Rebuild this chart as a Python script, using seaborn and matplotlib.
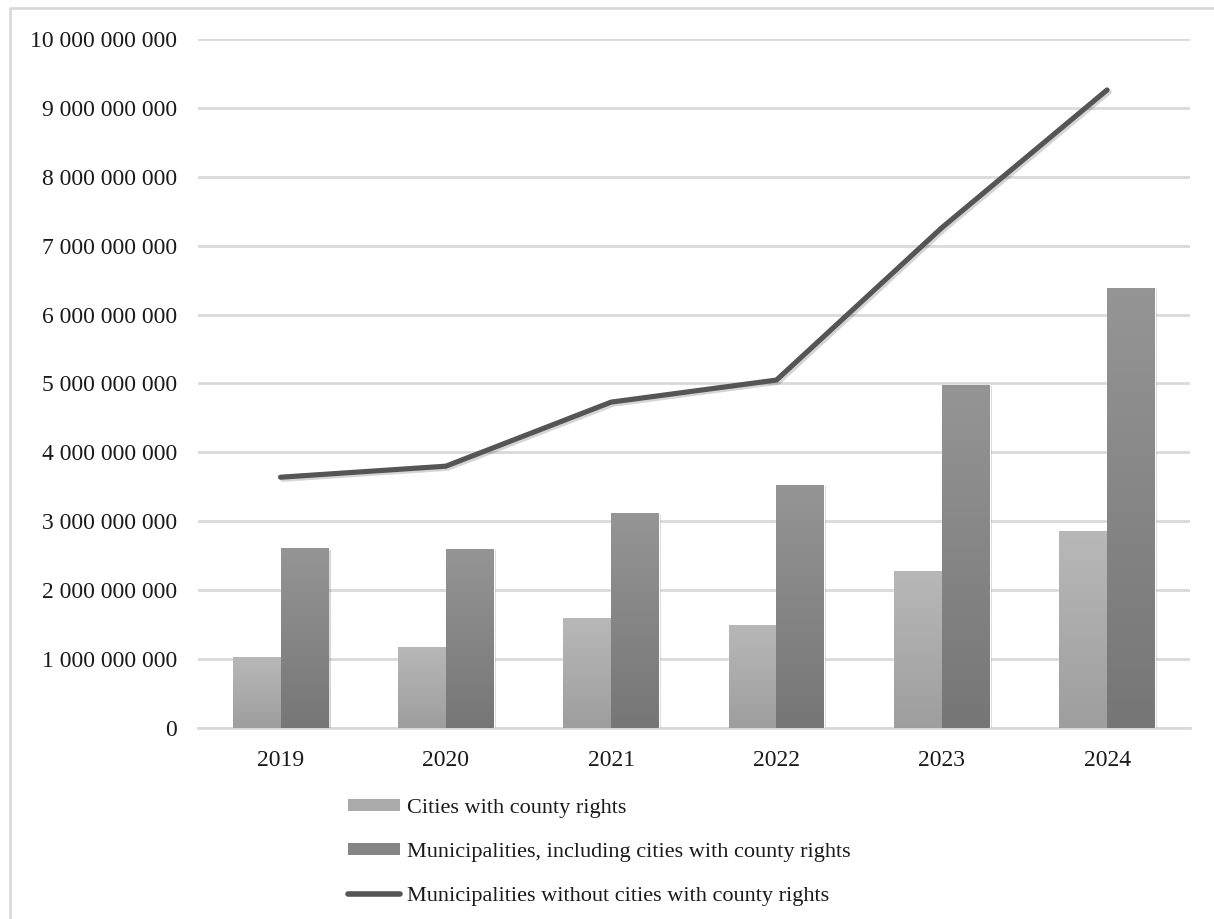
import numpy as np
import pandas as pd
import matplotlib
matplotlib.use("Agg")
import matplotlib.pyplot as plt
import matplotlib.patheffects as pe
from matplotlib.patches import Patch
from matplotlib.lines import Line2D
from matplotlib.colors import LinearSegmentedColormap
import seaborn as sns

years = ["2019", "2020", "2021", "2022", "2023", "2024"]
cities_county_rights = [1.03e9, 1.18e9, 1.60e9, 1.49e9, 2.28e9, 2.86e9]
municipalities_incl = [2.61e9, 2.60e9, 3.12e9, 3.53e9, 4.98e9, 6.39e9]
municipalities_excl = [3.64e9, 3.80e9, 4.73e9, 5.05e9, 7.26e9, 9.26e9]

label_cities = "Cities with county rights"
label_incl = "Municipalities, including cities with county rights"
label_excl = "Municipalities without cities with county rights"

y_ticks = [i * 1_000_000_000 for i in range(11)]

sns.set_theme(style="white")
plt.rcParams["font.family"] = ["Liberation Serif", "DejaVu Serif"]

bars = pd.DataFrame({
    "year": years * 2,
    "value": cities_county_rights + municipalities_incl,
    "series": [label_cities] * 6 + [label_incl] * 6,
})

fig = plt.figure(figsize=(12.14, 9.19), dpi=100)
ax = fig.add_axes([0.163, 0.2078, 0.817, 0.7498])

light_top, light_bot = "#b8b8b8", "#9e9e9e"
dark_top, dark_bot = "#959595", "#767676"

sns.barplot(data=bars, x="year", y="value", hue="series",
            palette=[light_top, dark_top], width=0.58, gap=0,
            saturation=1, legend=False, ax=ax, zorder=3)

# vertical gradient fill for every bar, clipped to the bar itself
for i, patch in enumerate(ax.patches):
    top_c, bot_c = (light_top, light_bot) if i < 6 else (dark_top, dark_bot)
    cmap = LinearSegmentedColormap.from_list("g", [bot_c, top_c])
    x0, y0 = patch.get_x(), patch.get_y()
    w, h = patch.get_width(), patch.get_height()
    patch.set_path_effects([pe.SimplePatchShadow(offset=(1.5, -1.0), alpha=0.2),
                            pe.Normal()])
    grad = np.linspace(0, 1, 256).reshape(-1, 1)
    im = ax.imshow(grad, extent=[x0, x0 + w, y0, y0 + h], origin="lower",
                   cmap=cmap, aspect="auto", zorder=4, interpolation="bicubic")
    im.set_clip_path(patch)

sns.lineplot(x=np.arange(len(years)), y=municipalities_excl, ax=ax,
             color="#555555", linewidth=3.7, zorder=6,
             path_effects=[pe.SimpleLineShadow(offset=(1.5, -1.5), alpha=0.18),
                           pe.Normal()])
ax.lines[-1].set_solid_capstyle("round")
ax.lines[-1].set_solid_joinstyle("miter")

ax.set_xlim(-0.5, 5.5)
ax.set_ylim(0, 10_000_000_000)
ax.set_yticks(y_ticks)
ax.set_yticklabels([f"{v:,}".replace(",", " ") for v in y_ticks])
ax.set_xticks(range(len(years)))
ax.set_xticklabels(years)
ax.set_xlabel("")
ax.set_ylabel("")
ax.tick_params(axis="both", length=0, labelsize=17, colors="#1a1a1a")
ax.tick_params(axis="y", pad=15)
ax.tick_params(axis="x", pad=16)
ax.grid(axis="y", color="#d9d9d9", linewidth=2, zorder=0)
ax.set_axisbelow(True)
for s in ["top", "right", "left"]:
    ax.spines[s].set_visible(False)
ax.spines["bottom"].set_color("#d9d9d9")
ax.spines["bottom"].set_linewidth(2)

handles = [
    Patch(facecolor="#aaaaaa", edgecolor="none"),
    Patch(facecolor="#858585", edgecolor="none"),
    Line2D([0], [0], color="#555555", linewidth=4, solid_capstyle="round"),
]
fig.legend(handles, [label_cities, label_incl, label_excl],
           loc="upper left", bbox_to_anchor=(0.2867, 0.1306),
           frameon=False, fontsize=16, handlelength=2.35, handleheight=0.45,
           handletextpad=0.3, labelspacing=1.12, borderaxespad=0,
           borderpad=0, labelcolor="#1a1a1a")

# chart frame: top and left edges
fig.add_artist(Line2D([10 / 1214, 10 / 1214, 1.0], [0.0, 1 - 8 / 919, 1 - 8 / 919],
                      transform=fig.transFigure, color="#d9d9d9", linewidth=2))

fig.savefig("out.png", dpi=100)
